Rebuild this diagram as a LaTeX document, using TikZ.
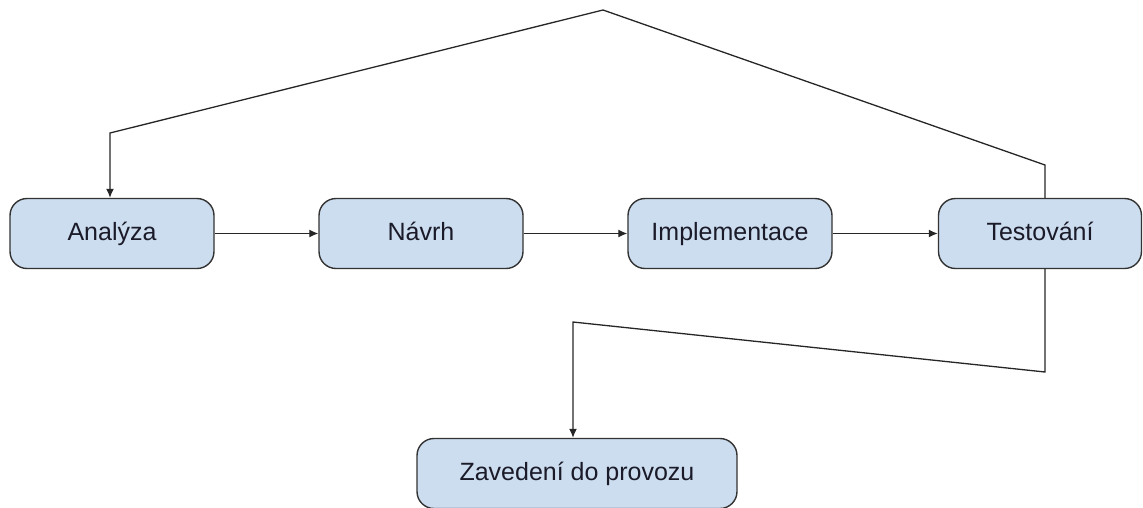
\documentclass[tikz,border=0pt]{standalone}
\usepackage{fontspec}
\setmainfont{Liberation Sans}
\usetikzlibrary{arrows.meta}
\definecolor{boxfill}{HTML}{CCDDEF}
\definecolor{boxdraw}{HTML}{333333}
\definecolor{txt}{HTML}{1A1A28}
\tikzset{
  stepbox/.style={draw=boxdraw, line width=1.4pt, fill=boxfill, rounded corners=17pt,
    minimum height=70pt, text=txt, font=\fontsize{25}{30}\selectfont, inner sep=0pt,
    text height=18pt, text depth=5pt},
  conn/.style={draw=black!85, line width=1.3pt},
  arr/.style={conn, -{Latex[length=9pt,width=8pt]}}
}
\begin{document}
\begin{tikzpicture}[x=1pt,y=-1pt]
\useasboundingbox (0,0) rectangle (1143,507);
\node[stepbox, minimum width=204pt] (ana) at (112,233.5) {Analýza};
\node[stepbox, minimum width=204pt] (nav) at (421,233.5) {Návrh};
\node[stepbox, minimum width=204pt] (imp) at (730,233.5) {Implementace};
\node[stepbox, minimum width=203pt] (tes) at (1040,233.5) {Testování};
\node[stepbox, minimum width=320pt] (zav) at (577,473.5) {Zavedení do provozu};
\draw[arr] (ana.east) -- (nav.west);
\draw[arr] (nav.east) -- (imp.west);
\draw[arr] (imp.east) -- (tes.west);
\coordinate (t1) at (1045,165);
\coordinate (t2) at (603,10);
\coordinate (t3) at (110,133);
\coordinate (b1) at (1045,372);
\coordinate (b2) at (573,322);
\draw[arr] (tes.north -| t1) -- (t1) -- (t2) -- (t3) -- (ana.north -| t3);
\draw[arr] (tes.south -| b1) -- (b1) -- (b2) -- (zav.north -| b2);
\end{tikzpicture}
\end{document}
